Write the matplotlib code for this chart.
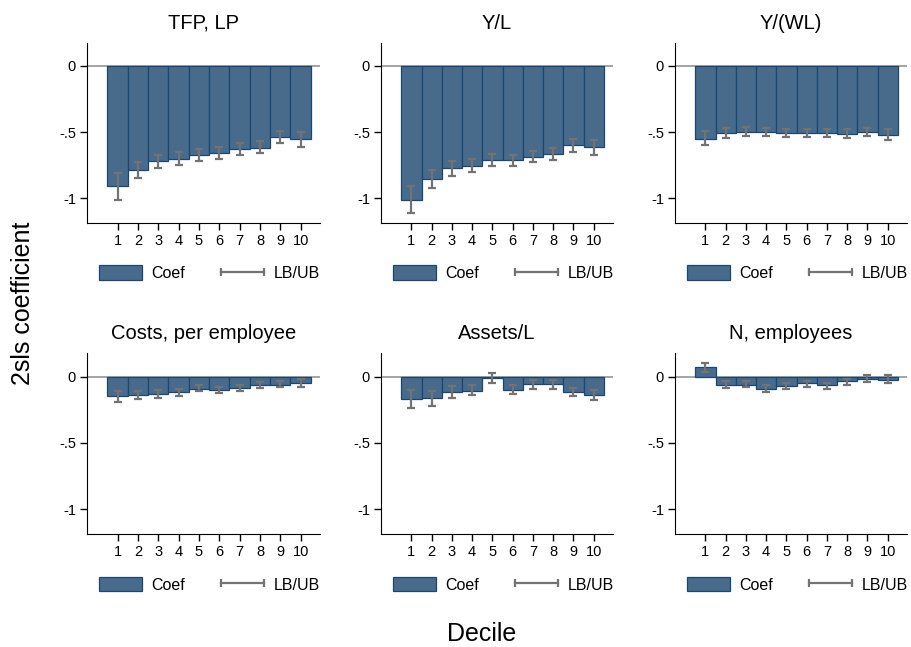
import numpy as np
import matplotlib
matplotlib.use("Agg")
import matplotlib.pyplot as plt
from matplotlib.lines import Line2D
from matplotlib.patches import Patch
from matplotlib.legend_handler import HandlerLine2D

plt.rcParams['font.family'] = ['Liberation Sans', 'DejaVu Sans']

deciles = np.arange(1, 11)
titles = ["TFP, LP", "Y/L", "Y/(WL)", "Costs, per employee", "Assets/L", "N, employees"]

# point estimates per decile
coef_tfp = [-0.91, -0.79, -0.72, -0.70, -0.67, -0.66, -0.63, -0.62, -0.535, -0.55]
coef_yl = [-1.01, -0.855, -0.775, -0.755, -0.715, -0.715, -0.685, -0.665, -0.60, -0.615]
coef_ywl = [-0.55, -0.505, -0.50, -0.50, -0.51, -0.51, -0.51, -0.515, -0.50, -0.52]
coef_cost = [-0.147, -0.14, -0.13, -0.12, -0.09, -0.10, -0.085, -0.065, -0.06, -0.05]
coef_assets = [-0.17, -0.16, -0.12, -0.105, -0.01, -0.10, -0.055, -0.055, -0.12, -0.14]
coef_n = [0.07, -0.06, -0.06, -0.09, -0.07, -0.05, -0.065, -0.035, -0.015, -0.025]

# confidence bounds
lb_tfp = [-1.01, -0.85, -0.77, -0.75, -0.72, -0.70, -0.67, -0.66, -0.58, -0.61]
ub_tfp = [-0.81, -0.73, -0.67, -0.65, -0.63, -0.61, -0.585, -0.57, -0.49, -0.50]
lb_yl = [-1.11, -0.92, -0.83, -0.80, -0.76, -0.755, -0.725, -0.71, -0.65, -0.67]
ub_yl = [-0.91, -0.79, -0.72, -0.70, -0.665, -0.67, -0.64, -0.62, -0.555, -0.56]
lb_ywl = [-0.595, -0.545, -0.53, -0.53, -0.54, -0.535, -0.54, -0.545, -0.53, -0.56]
ub_ywl = [-0.495, -0.47, -0.465, -0.47, -0.475, -0.475, -0.475, -0.48, -0.47, -0.475]
lb_cost = [-0.19, -0.17, -0.16, -0.145, -0.11, -0.125, -0.105, -0.085, -0.08, -0.08]
ub_cost = [-0.105, -0.105, -0.10, -0.095, -0.06, -0.075, -0.06, -0.04, -0.035, -0.02]
lb_assets = [-0.24, -0.22, -0.165, -0.14, -0.045, -0.13, -0.09, -0.09, -0.15, -0.175]
ub_assets = [-0.10, -0.11, -0.07, -0.065, 0.03, -0.06, -0.025, -0.025, -0.085, -0.10]
lb_n = [0.035, -0.085, -0.08, -0.115, -0.095, -0.075, -0.09, -0.06, -0.04, -0.05]
ub_n = [0.10, -0.035, -0.035, -0.065, -0.05, -0.03, -0.045, -0.015, 0.01, 0.01]

coefs = [coef_tfp, coef_yl, coef_ywl, coef_cost, coef_assets, coef_n]
lbs = [lb_tfp, lb_yl, lb_ywl, lb_cost, lb_assets, lb_n]
ubs = [ub_tfp, ub_yl, ub_ywl, ub_cost, ub_assets, ub_n]

bar_face = '#486b8c'
bar_edge = '#1a476f'
err_col = '#737373'

fig = plt.figure(figsize=(9.11, 6.47), dpi=100)

lefts = [87, 381, 675]
rights = [320, 613, 907]
tops = [42.7, 353.3]
bottoms = [222.7, 534]
W, H = 911.0, 647.0

for i in range(6):
    r, c = divmod(i, 3)
    ax = fig.add_axes([lefts[c] / W, 1 - bottoms[r] / H,
                       (rights[c] - lefts[c]) / W, (bottoms[r] - tops[r]) / H])
    ax.axhline(0, color='#8c8c8c', lw=1.1, zorder=1)
    ax.bar(deciles, coefs[i], width=1.0, color=bar_face, edgecolor=bar_edge,
           linewidth=0.9, zorder=2)
    lo = np.array(lbs[i]); hi = np.array(ubs[i])
    mid = (lo + hi) / 2
    ax.errorbar(deciles, mid, yerr=[mid - lo, hi - mid], fmt='none',
                ecolor=err_col, elinewidth=1.6, capsize=3.2, capthick=1.6, zorder=3)
    ax.set_xlim(-0.5, 10.95)
    ax.set_ylim(-1.185, 0.175)
    ax.set_yticks([0, -0.5, -1])
    ax.set_yticklabels(['0', '-.5', '-1'])
    ax.set_xticks(deciles)
    ax.tick_params(labelsize=10.5, length=5, width=1, pad=3)
    for s in ['top', 'right']:
        ax.spines[s].set_visible(False)
    ax.set_title(titles[i], fontsize=14.5, pad=10)

    handles = [Patch(facecolor=bar_face, edgecolor=bar_edge, linewidth=0.9),
               Line2D([], [], color=err_col, lw=1.6, marker='|', markersize=6,
                      markeredgewidth=1.6)]
    ax.legend(handles, ['Coef', 'LB/UB'], loc='center left',
              bbox_to_anchor=(0.05, -0.28), ncol=2, frameon=False,
              fontsize=11.5, handlelength=2.7, handleheight=1.05,
              handletextpad=0.6, columnspacing=2.25, borderpad=0,
              borderaxespad=0, numpoints=2,
              handler_map={Line2D: HandlerLine2D(marker_pad=0)})

fig.text(23 / W, 1 - 303 / H, '2sls coefficient', rotation=90, fontsize=18,
         ha='center', va='center')
fig.text(482 / W, 1 - 634 / H, 'Decile', fontsize=18, ha='center', va='center')

fig.savefig('out.png', dpi=100)
